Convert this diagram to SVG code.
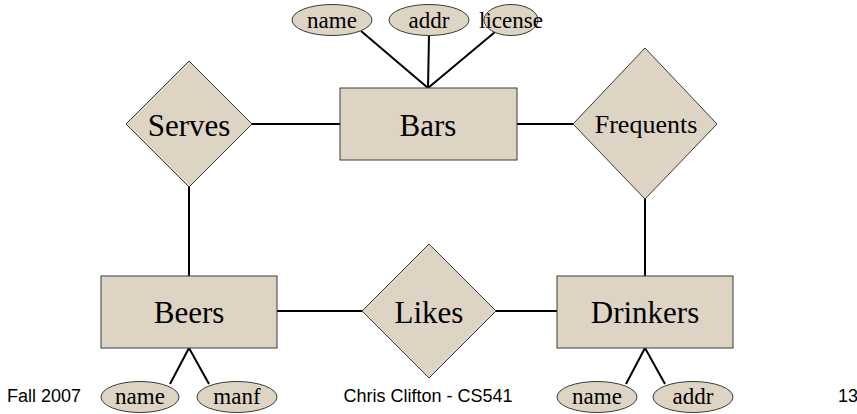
<svg xmlns="http://www.w3.org/2000/svg" width="857" height="414" viewBox="0 0 857 414">
<style>
.s{fill:#DED4C4;stroke:#3a3a3a;stroke-width:1}
.big{font-family:"Liberation Serif",serif;font-size:31px;fill:#000;text-anchor:middle}
.med{font-family:"Liberation Serif",serif;font-size:26px;fill:#000;text-anchor:middle}
.att{font-family:"Liberation Serif",serif;font-size:23px;fill:#000;text-anchor:middle}
.ft{font-family:"Liberation Sans",Arial,sans-serif;font-size:18px;fill:#000}
.c line{stroke:#000;stroke-width:2}
</style>
<rect width="857" height="414" fill="#fff"/>
<g class="c" id="connectors">
<line x1="361" y1="31" x2="428" y2="88"/>
<line x1="429" y1="35" x2="428" y2="88"/>
<line x1="495" y1="32" x2="428" y2="88"/>
<line x1="252" y1="124" x2="340" y2="124"/>
<line x1="517" y1="124" x2="573" y2="124"/>
<line x1="189" y1="187" x2="189" y2="276"/>
<line x1="645" y1="199" x2="645" y2="276"/>
<line x1="277" y1="311" x2="362" y2="311"/>
<line x1="496" y1="311" x2="557" y2="311"/>
<line x1="189" y1="348" x2="170" y2="384"/>
<line x1="189" y1="348" x2="209" y2="384"/>
<line x1="645" y1="348" x2="626" y2="384"/>
<line x1="645" y1="348" x2="665" y2="384"/>
</g>
<g id="bars"><rect class="s" x="340" y="88" width="177" height="72"/><text class="big" x="428" y="136">Bars</text></g>
<g id="bars-name"><ellipse class="s" cx="332" cy="20" rx="40" ry="15.5"/><text class="att" x="332" y="28">name</text></g>
<g id="bars-addr"><ellipse class="s" cx="429" cy="20" rx="40" ry="15.5"/><text class="att" x="429" y="28">addr</text></g>
<g id="bars-license"><ellipse class="s" cx="511" cy="20" rx="27" ry="15.5"/><text class="att" x="511" y="28">license</text></g>
<g id="serves"><polygon class="s" points="189,61 252,124 189,187 126,124"/><text class="big" x="189" y="136">Serves</text></g>
<g id="frequents"><polygon class="s" points="645,48 717,124 645,199 573,124"/><text class="med" x="646" y="133">Frequents</text></g>
<g id="beers"><rect class="s" x="101" y="276" width="176" height="72"/><text class="big" x="189" y="323">Beers</text></g>
<g id="likes"><polygon class="s" points="429,244 496,311 429,378 362,311"/><text class="big" x="429" y="323">Likes</text></g>
<g id="drinkers"><rect class="s" x="557" y="276" width="176" height="72"/><text class="big" x="645" y="323">Drinkers</text></g>
<g id="beers-name"><ellipse class="s" cx="140" cy="397" rx="39" ry="15.5"/><text class="att" x="140" y="404">name</text></g>
<g id="beers-manf"><ellipse class="s" cx="237" cy="397" rx="40" ry="15.5"/><text class="att" x="237" y="404">manf</text></g>
<g id="drinkers-name"><ellipse class="s" cx="597" cy="397" rx="40" ry="15.5"/><text class="att" x="597" y="404">name</text></g>
<g id="drinkers-addr"><ellipse class="s" cx="693" cy="397" rx="40" ry="15.5"/><text class="att" x="693" y="404">addr</text></g>
<text class="ft" x="7" y="402">Fall 2007</text>
<text class="ft" x="428" y="402" text-anchor="middle">Chris Clifton - CS541</text>
<text class="ft" x="838" y="402">13</text>
</svg>
